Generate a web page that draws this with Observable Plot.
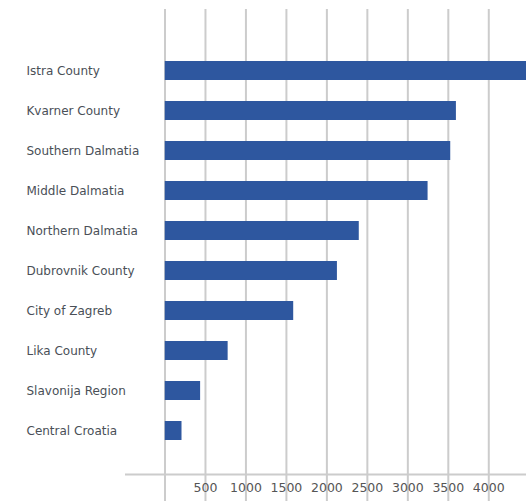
<!DOCTYPE html>
<html>
<head>
<meta charset="utf-8">
<script src="https://cdn.jsdelivr.net/npm/d3@7"></script>
<script src="https://cdn.jsdelivr.net/npm/@observablehq/plot@0.6"></script>
<style>
  html, body { margin: 0; padding: 0; background: #fff; overflow: hidden; }
</style>
</head>
<body>
<div id="chart"></div>
<script>
const regions = ["Istra County", "Kvarner County", "Southern Dalmatia", "Middle Dalmatia", "Northern Dalmatia", "Dubrovnik County", "City of Zagreb", "Lika County", "Slavonija Region", "Central Croatia"];
const values = [4600, 3600, 3530, 3250, 2400, 2130, 1590, 780, 440, 210];
const gridTicks = [0, 500, 1000, 1500, 2000, 2500, 3000, 3500, 4000];
const tickLabels = [500, 1000, 1500, 2000, 2500, 3000, 3500, 4000];

const data = regions.map((r, i) => ({region: r, value: values[i]}));

const chart = Plot.plot({
  width: 526,
  height: 501,
  marginLeft: 164.5,
  marginRight: 0,
  marginTop: 9,
  marginBottom: 0,
  style: {fontFamily: "DejaVu Sans", background: "#fff"},
  x: {domain: [0, 4466], axis: null},
  y: {domain: regions, range: [47.5, 453.3], paddingInner: 0.52, paddingOuter: 0.26, axis: null},
  marks: [
    Plot.ruleX(gridTicks, {x: d => d, stroke: "#cccccc", strokeWidth: 2}),
    Plot.frame({anchor: "bottom", stroke: "#cccccc", strokeWidth: 2, insetLeft: -39, insetBottom: 27}),
    Plot.barX(data, {x: "value", y: "region", fill: "#2e579f", clip: true}),
    Plot.text(data, {y: "region", text: "region", frameAnchor: "left", textAnchor: "start", dx: -138.5, fill: "#4a4f57", fontSize: 12}),
    Plot.text(tickLabels, {x: d => d, text: d => String(d), frameAnchor: "bottom", lineAnchor: "middle", dy: -14, fill: "#555", fontSize: 12.5})
  ]
});
document.getElementById("chart").appendChild(chart);
</script>
</body>
</html>
